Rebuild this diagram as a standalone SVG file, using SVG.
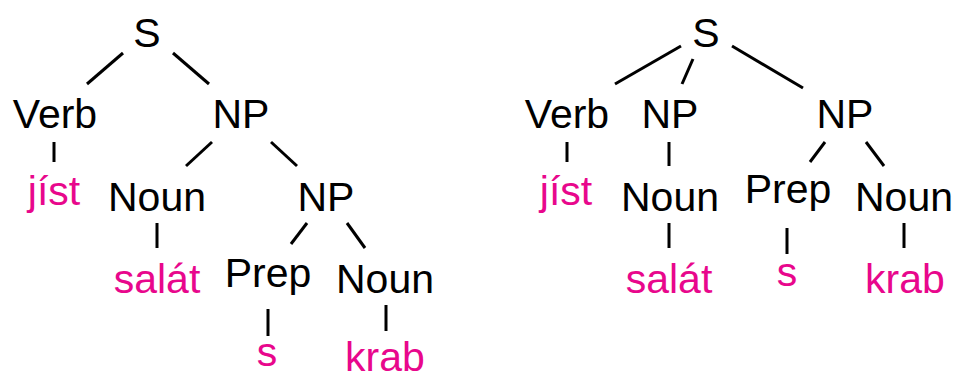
<svg xmlns="http://www.w3.org/2000/svg" width="955" height="374" viewBox="0 0 955 374">
<style>
text{font-family:"Liberation Sans",Arial,sans-serif;font-size:41px;text-anchor:middle}
.c{fill:#000}
.w{fill:#e8078c}
#edges line{stroke:#000;stroke-width:3;stroke-linecap:butt}
</style>
<rect width="955" height="374" fill="#fff"/>
<g id="edges">
<line x1="123" y1="53" x2="87" y2="84"/>
<line x1="173" y1="53" x2="209" y2="84"/>
<line x1="54" y1="142" x2="54" y2="162"/>
<line x1="212" y1="142" x2="186" y2="166"/>
<line x1="271" y1="142" x2="297" y2="166"/>
<line x1="157" y1="223" x2="157" y2="248"/>
<line x1="307" y1="223" x2="291" y2="244"/>
<line x1="347" y1="223" x2="365" y2="248"/>
<line x1="268" y1="309" x2="268" y2="336"/>
<line x1="386" y1="305" x2="386" y2="331"/>
<line x1="681" y1="46" x2="615" y2="84"/>
<line x1="693" y1="59" x2="682" y2="84"/>
<line x1="732" y1="46" x2="803" y2="88"/>
<line x1="567" y1="142" x2="567" y2="162"/>
<line x1="669" y1="142" x2="669" y2="166"/>
<line x1="669" y1="223" x2="669" y2="248"/>
<line x1="825" y1="142" x2="810" y2="162"/>
<line x1="866" y1="142" x2="884" y2="166"/>
<line x1="787" y1="228" x2="787" y2="254"/>
<line x1="904" y1="223" x2="904" y2="248"/>
</g>
<g id="t1-S"><text class="c" x="147" y="47">S</text></g>
<g id="t1-Verb"><text class="c" x="55" y="128">Verb</text></g>
<g id="t1-NP"><text class="c" x="241" y="128">NP</text></g>
<g id="t1-jist"><text class="w" x="54" y="205">jíst</text></g>
<g id="t1-Noun"><text class="c" x="157" y="211">Noun</text></g>
<g id="t1-NP2"><text class="c" x="326" y="211">NP</text></g>
<g id="t1-salat"><text class="w" x="157" y="293">salát</text></g>
<g id="t1-Prep"><text class="c" x="268" y="287">Prep</text></g>
<g id="t1-Noun2"><text class="c" x="385" y="293">Noun</text></g>
<g id="t1-s"><text class="w" x="267" y="366">s</text></g>
<g id="t1-krab"><text class="w" x="385" y="371">krab</text></g>
<g id="t2-S"><text class="c" x="706" y="47">S</text></g>
<g id="t2-Verb"><text class="c" x="567" y="128">Verb</text></g>
<g id="t2-NP1"><text class="c" x="670" y="128">NP</text></g>
<g id="t2-NP2"><text class="c" x="845" y="128">NP</text></g>
<g id="t2-jist"><text class="w" x="566" y="205">jíst</text></g>
<g id="t2-Noun"><text class="c" x="670" y="211">Noun</text></g>
<g id="t2-salat"><text class="w" x="669" y="293">salát</text></g>
<g id="t2-Prep"><text class="c" x="788" y="203">Prep</text></g>
<g id="t2-Noun2"><text class="c" x="904" y="211">Noun</text></g>
<g id="t2-s"><text class="w" x="787" y="286">s</text></g>
<g id="t2-krab"><text class="w" x="905" y="293">krab</text></g>
</svg>
